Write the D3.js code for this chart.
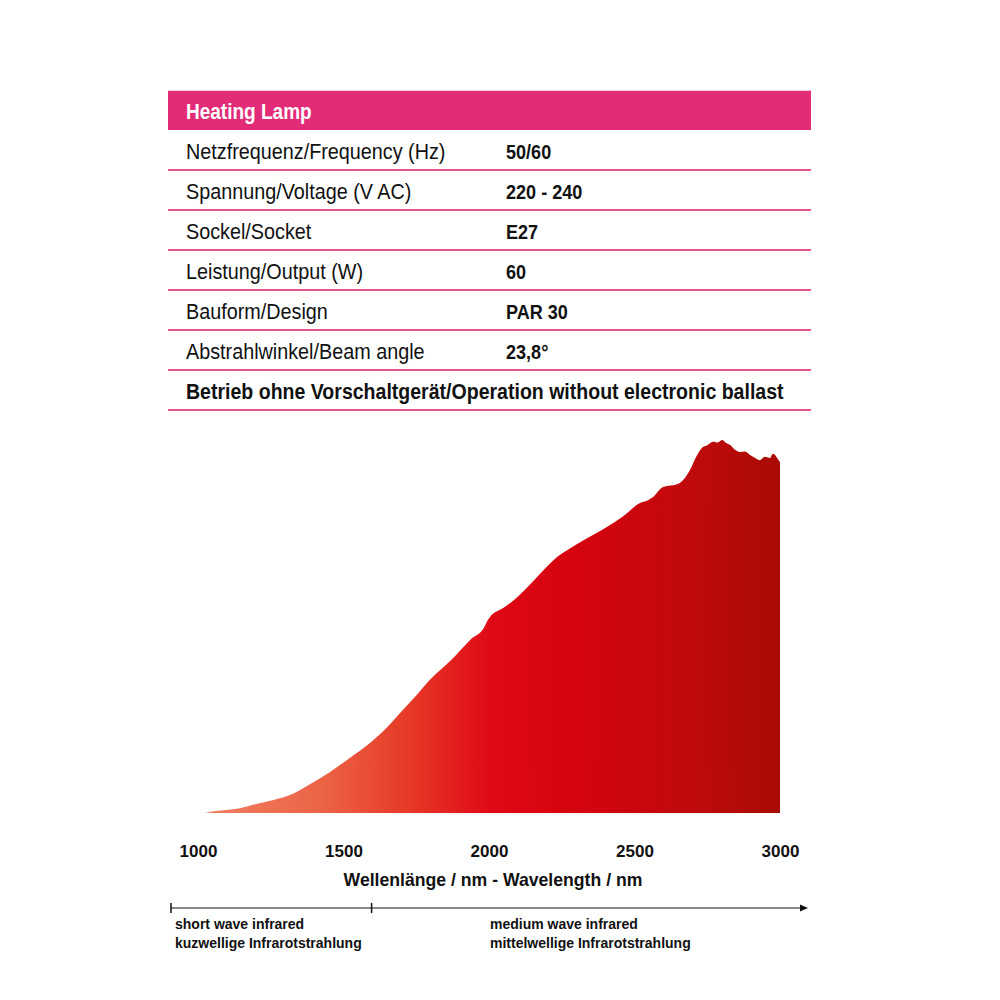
<!DOCTYPE html>
<html><head><meta charset="utf-8">
<script src="https://cdn.jsdelivr.net/npm/d3@7"></script>
<style>
body{margin:0;background:#fff;}
svg{display:block;}
text{font-family:"Liberation Sans","Arial",sans-serif;}
</style></head>
<body>
<svg id="c" width="1000" height="1000"></svg>
<script>
// ---- data ----
const title = "Heating Lamp";
const specLabels = ["Netzfrequenz/Frequency (Hz)","Spannung/Voltage (V AC)","Sockel/Socket","Leistung/Output (W)","Bauform/Design","Abstrahlwinkel/Beam angle"];
const specValues = ["50/60","220 - 240","E27","60","PAR 30","23,8°"];
const note = "Betrieb ohne Vorschaltgerät/Operation without electronic ballast";
const wavelengths = [1025,1040,1080,1144,1200,1260,1316,1380,1454,1520,1591,1650,1704,1750,1797,1870,1935,1985,1995,2003,2050,2090,2150,2234,2300,2405,2460,2519,2545,2564,2598,2625,2656,2675,2691,2712,2735,2750,2770,2785,2801,2815,2828,2845,2863,2880,2897,2915,2931,2948,2966,2975,2983,2992,3000];
const intensity  = [0,0.3,0.7,1.3,2.4,3.5,4.8,7.5,11,14.7,18.8,23,27.6,31.5,35.7,41,46.4,50,51.6,52.5,55,57.4,62,68.6,72,76.7,79.5,83.1,83.8,84.7,87.4,87.8,88.5,90,92,95.5,98.1,98.6,99.5,99.3,100,99.2,98.7,97.4,96.8,96.9,96,95.2,94.6,95.5,95.2,96.3,96,95,94.1];
const xTicks = [1000,1500,2000,2500,3000];
const xTitle = "Wellenlänge / nm - Wavelength / nm";
const bandBoundary = 1600;
const bandLabels = [["short wave infrared","kuzwellige Infrarotstrahlung"],["medium wave infrared","mittelwellige Infrarotstrahlung"]];

const svg = d3.select("#c");

// condensed text helper
function ctext(parent, xp, yp, str, size, bold, sx, fill){
  return parent.append("text")
    .attr("transform",`translate(${xp},${yp}) scale(${sx},1)`)
    .attr("font-size",size).attr("font-weight",bold?"bold":"normal")
    .attr("fill",fill||"#111").text(str);
}

// ---- table ----
const tx0 = 168, tx1 = 811;
svg.append("rect").attr("x",tx0).attr("y",91).attr("width",tx1-tx0).attr("height",39).attr("fill","#e22c77");
svg.append("line").attr("x1",tx0).attr("x2",tx1).attr("y1",90.5).attr("y2",90.5).attr("stroke","#f4c6d8").attr("stroke-width",1);
ctext(svg,186,119,title,22,true,0.865,"#fff");

const rowY = d3.scaleLinear().domain([0,1]).range([130,170]);
specLabels.forEach((lab,i)=>{
  const yb = rowY(i+1);
  ctext(svg,186,yb-11,lab,22,false,0.9);
  ctext(svg,506,yb-11,specValues[i],21,true,0.86);
  svg.append("line").attr("x1",tx0).attr("x2",tx1).attr("y1",yb).attr("y2",yb).attr("stroke","#e5558d").attr("stroke-width",2);
});
{
  const yb = rowY(specLabels.length+1);
  ctext(svg,186,yb-11,note,22,true,0.888);
  svg.append("line").attr("x1",tx0).attr("x2",tx1).attr("y1",yb).attr("y2",yb).attr("stroke","#e5558d").attr("stroke-width",2);
}

// ---- chart ----
const x = d3.scaleLinear().domain([1000,3000]).range([198,780]);
const y = d3.scaleLinear().domain([0,100]).range([813,440]);

const defs = svg.append("defs");
const grad = defs.append("linearGradient").attr("id","g").attr("gradientUnits","userSpaceOnUse")
  .attr("x1",x(wavelengths[0])).attr("x2",x(3000)).attr("y1",0).attr("y2",0);
[[0,"#f07f62"],[0.2,"#ec6446"],[0.35,"#e63a27"],[0.5,"#e00816"],[0.65,"#d5040f"],[0.85,"#bf0a0b"],[1,"#a80b05"]]
  .forEach(([o,c])=>grad.append("stop").attr("offset",o).attr("stop-color",c));

const data = wavelengths.map((w,i)=>({w,v:intensity[i]}));
const area = d3.area().x(d=>x(d.w)).y0(y(0)).y1(d=>y(d.v)).curve(d3.curveMonotoneX);
svg.append("path").datum(data).attr("d",area).attr("fill","url(#g)");

const ax = svg.append("g").attr("transform","translate(0,842)")
  .call(d3.axisBottom(x).tickValues(xTicks).tickSize(0).tickFormat(d3.format("d")));
ax.select(".domain").remove();
ax.selectAll("text").attr("font-size",17).attr("font-weight","bold").attr("fill","#111")
  .attr("font-family","'Liberation Sans',sans-serif").attr("dy","0.71em");

svg.append("text").attr("transform","translate(493,886) scale(0.98,1)").attr("text-anchor","middle").attr("font-size",18).attr("font-weight","bold").attr("fill","#111").text(xTitle);

// ---- band bar ----
const by = 908;
const bx0 = 171, bx1 = 808;
const bxB = x(bandBoundary) - 1;
svg.append("line").attr("x1",bx0).attr("x2",bx1-4).attr("y1",by).attr("y2",by).attr("stroke","#111").attr("stroke-width",1.2);
[bx0,bxB].forEach(t=>svg.append("line").attr("x1",t).attr("x2",t).attr("y1",by-5).attr("y2",by+5).attr("stroke","#111").attr("stroke-width",1.5));
svg.append("path").attr("d",`M${bx1},${by} L${bx1-8},${by-3.5} L${bx1-8},${by+3.5} Z`).attr("fill","#111");
const bandX = [175, 490];
bandLabels.forEach((ls,i)=>{
  ls.forEach((t,j)=>svg.append("text").attr("x",bandX[i]).attr("y",929+j*19).attr("font-size",14).attr("font-weight","bold").attr("fill","#111").text(t));
});
</script>
</body></html>
